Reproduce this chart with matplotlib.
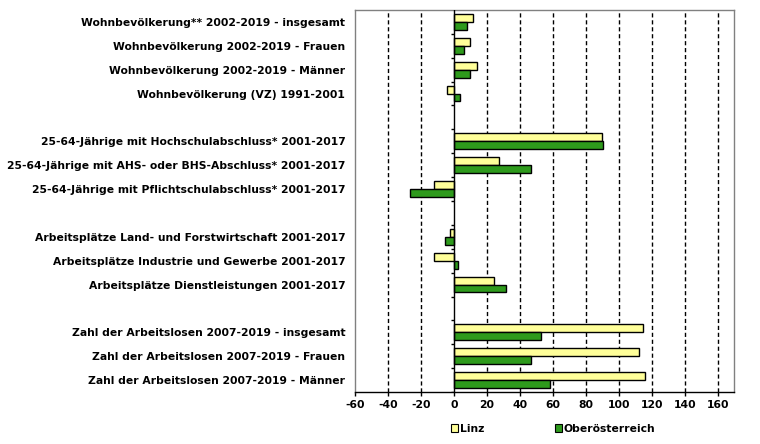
import matplotlib
matplotlib.use("Agg")
import matplotlib.pyplot as plt
import numpy as np
from matplotlib.patches import Patch

categories = [
    "Wohnbevölkerung** 2002-2019 - insgesamt",
    "Wohnbevölkerung 2002-2019 - Frauen",
    "Wohnbevölkerung 2002-2019 - Männer",
    "Wohnbevölkerung (VZ) 1991-2001",
    "",
    "25-64-Jährige mit Hochschulabschluss* 2001-2017",
    "25-64-Jährige mit AHS- oder BHS-Abschluss* 2001-2017",
    "25-64-Jährige mit Pflichtschulabschluss* 2001-2017",
    "",
    "Arbeitsplätze Land- und Forstwirtschaft 2001-2017",
    "Arbeitsplätze Industrie und Gewerbe 2001-2017",
    "Arbeitsplätze Dienstleistungen 2001-2017",
    "",
    "Zahl der Arbeitslosen 2007-2019 - insgesamt",
    "Zahl der Arbeitslosen 2007-2019 - Frauen",
    "Zahl der Arbeitslosen 2007-2019 - Männer",
]
linz = [11.5, 9.5, 13.8, -4.2, np.nan, 89.7, 27.3, -12.1, np.nan,
        -2.6, -12.1, 24.2, np.nan, 114.5, 112.1, 115.8]
ooe = [7.9, 6.1, 9.7, 3.6, np.nan, 90.3, 46.7, -26.7, np.nan,
       -5.5, 2.4, 31.5, np.nan, 52.7, 46.7, 58.2]
series_names = ["Linz", "Oberösterreich"]
xticks = list(range(-60, 161, 20))

col_linz = "#FFFF99"
col_ooe = "#2E9A1C"
fs = 7.75

fig = plt.figure(figsize=(7.6, 4.44), dpi=100)
ax = fig.add_axes([355/760, 1-392/444, (734.3-355)/760, (392-10)/444])

n = len(categories)
y = np.arange(n)
h = 0.33
ax.barh(y - h/2, linz, height=h, color=col_linz, edgecolor="black", linewidth=1, zorder=3)
ax.barh(y + h/2, ooe, height=h, color=col_ooe, edgecolor="black", linewidth=1, zorder=3)

ax.set_xlim(-60, 170)
ax.set_ylim(n - 0.5, -0.5)

for xv in xticks:
    if xv in (-60, 0):
        continue
    ax.axvline(xv, color="black", linewidth=1, linestyle=(0, (3, 2)), zorder=1)
ax.axvline(0, color="black", linewidth=1, zorder=4)

# small category ticks on the zero line
for b in np.arange(0.5, n, 1.0):
    ax.plot([-1.9, 0], [b, b], color="black", linewidth=1, zorder=4, solid_capstyle="butt")

ax.set_yticks(y)
ax.set_yticklabels(categories, fontsize=fs, fontweight="bold")
ax.tick_params(axis="y", length=0, pad=7)
ax.set_xticks(xticks)
ax.set_xticklabels([str(v) for v in xticks], fontsize=fs, fontweight="bold")
ax.tick_params(axis="x", length=3, width=1, pad=3, direction="out")

for s in ("left", "top", "right"):
    ax.spines[s].set_color("#808080")
    ax.spines[s].set_linewidth(1)
ax.spines["bottom"].set_color("black")
ax.spines["bottom"].set_linewidth(1)

handles = [Patch(facecolor=col_linz, edgecolor="black", linewidth=0.8),
           Patch(facecolor=col_ooe, edgecolor="black", linewidth=0.8)]
leg = fig.legend(handles, series_names, loc="center", bbox_to_anchor=(0.728, 0.034),
                 ncol=2, frameon=False, handlelength=0.6, handleheight=0.8,
                 handletextpad=0.2, columnspacing=6.6,
                 prop={"size": fs, "weight": "bold"})

fig.savefig("out.png", dpi=100)
